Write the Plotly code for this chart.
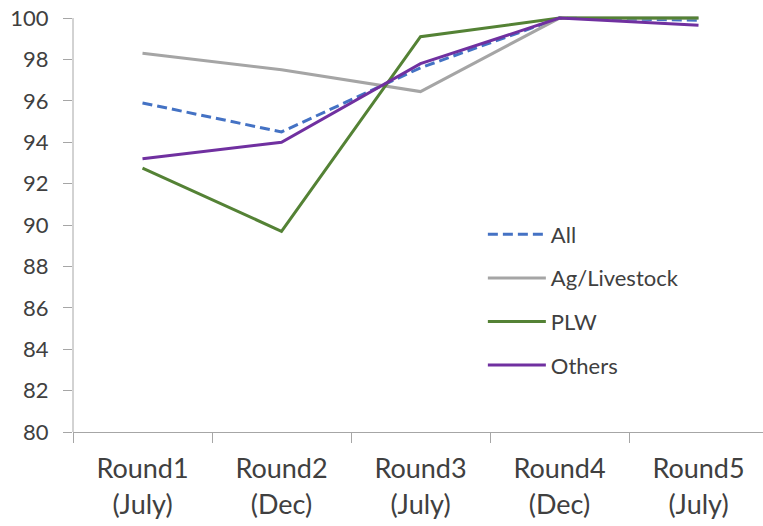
import plotly.graph_objects as go

# Survey rounds along the x axis
rounds = ["Round1<br>(July)", "Round2<br>(Dec)", "Round3<br>(July)", "Round4<br>(Dec)", "Round5<br>(July)"]

# Percentages per group for each round
all_vals = [95.9, 94.5, 97.6, 100.0, 99.9]
ag_livestock = [98.3, 97.5, 96.45, 100.0, 100.0]
plw = [92.75, 89.7, 99.1, 100.0, 100.0]
others = [93.2, 94.0, 97.8, 100.0, 99.65]

y_ticks = [80, 82, 84, 86, 88, 90, 92, 94, 96, 98, 100]

FONT = "Lato"
TEXT = "#404040"
AXIS = "#A6A6A6"

series = [
    ("All", all_vals, "#4472C4", "10px,5px"),
    ("Ag/Livestock", ag_livestock, "#A5A5A5", "solid"),
    ("PLW", plw, "#548235", "solid"),
    ("Others", others, "#7030A0", "solid"),
]

fig = go.Figure()
for i, (name, vals, color, dash) in enumerate(series):
    fig.add_trace(go.Scatter(
        x=rounds, y=vals, name=name, mode="lines",
        line=dict(color=color, width=3, dash=dash),
        legendgroup=f"g{i}",
    ))

# vertical axis line spanning 80-100 only
fig.add_shape(type="line", xref="paper", yref="y", x0=0, x1=0, y0=80, y1=100,
              line=dict(color=AXIS, width=1), layer="below")

fig.update_layout(
    width=763, height=526,
    margin=dict(l=73, r=0, t=15, b=94),
    paper_bgcolor="white", plot_bgcolor="white",
    font=dict(family=FONT, color=TEXT),
    showlegend=True,
    legend=dict(
        x=0.594, y=0.524, xanchor="left", yanchor="top",
        font=dict(size=22, family=FONT, color=TEXT),
        bgcolor="rgba(0,0,0,0)", tracegroupgap=12,
        itemwidth=58,
    ),
    xaxis=dict(
        type="category", range=[-0.5, 4.464],
        showline=True, linecolor=AXIS, linewidth=1,
        ticks="outside", tickson="boundaries", ticklen=10, tickcolor=AXIS,
        showgrid=False, zeroline=False,
        tickfont=dict(size=27, family=FONT, color=TEXT),
        ticklabelstandoff=13,
    ),
    yaxis=dict(
        range=[80, 100.15], tickvals=y_ticks,
        showline=False, ticks="outside", ticklen=9, tickcolor=AXIS,
        showgrid=False, zeroline=False,
        tickfont=dict(size=22, family=FONT, color=TEXT),
        ticklabelstandoff=10,
    ),
)

fig.write_html("out.html")
